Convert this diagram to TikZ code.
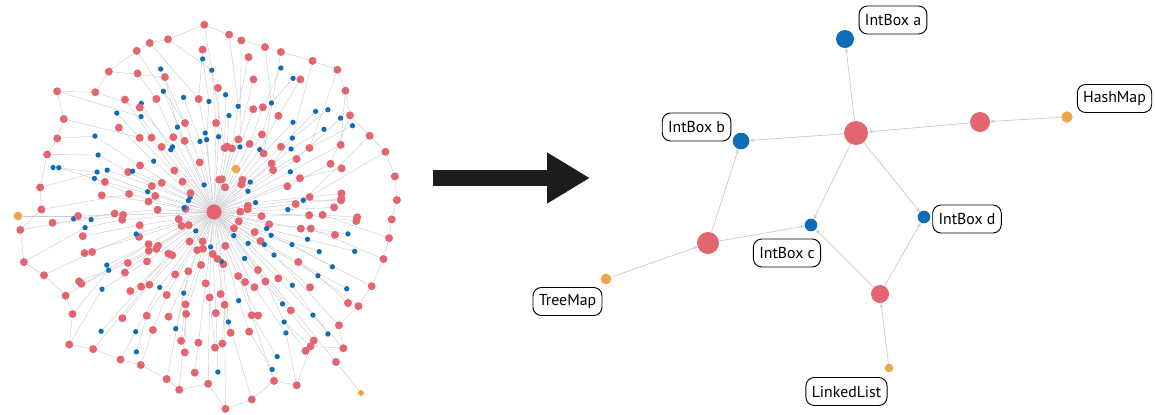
\documentclass[tikz,border=0pt]{standalone}
\usepackage{fontspec}
\setmainfont{PT Sans}
\usepackage{tikz}
\usetikzlibrary{arrows.meta, calc}
\pgfdeclarelayer{bg}
\pgfsetlayers{bg,main}
\definecolor{objred}{RGB}{226,101,111}
\definecolor{intblue}{RGB}{14,108,184}
\definecolor{colorange}{RGB}{238,166,74}
\definecolor{edgegray}{RGB}{200,202,210}
\definecolor{arrowblack}{RGB}{30,27,29}
\tikzset{
	every node/.style={
		font=\fontsize{13.5}{15}\selectfont
	},
	objdot/.style={
		shape=circle,
		inner sep=0pt,
		fill=objred,
		minimum size=0.24cm
	},
	intdot/.style={
		shape=circle,
		inner sep=0pt,
		fill=intblue,
		minimum size=0.16cm
	},
	coldot/.style={
		shape=circle,
		inner sep=0pt,
		fill=colorange,
		minimum size=0.26cm
	},
	dot/.style={objdot},
	link/.style={
		draw=edgegray,
		line width=0.35pt
	},
	ref/.style={
		draw=edgegray,
		line width=0.6pt,
		-{Stealth[length=4pt,width=3pt]}
	},
	labelbox/.style={
		shape=rectangle,
		draw,
		line width=0.8pt,
		rounded corners=0.25cm,
		minimum height=0.84cm,
		inner xsep=5pt
	},
	bigarrow/.style={
		draw=arrowblack,
		line width=0.5cm,
		-{Triangle[length=1.29cm,width=1.44cm]}
	}
}
\newcommand{\pickcolour}{%
	\pgfmathtruncatemacro{\isblue}{rnd<0.34}%
	\ifnum\isblue=1 \tikzset{dot/.style={intdot}}\else\tikzset{dot/.style={objdot}}\fi}

\begin{document}
\begin{tikzpicture}[x=0.03cm, y=-0.03cm]
	\useasboundingbox (0,0) rectangle (1155,414);
	\pgfmathsetseed{42}
	
	% whole heap
	\begin{scope}[shift={(214,212)}]
		\node[objdot, minimum size=0.46cm] (root) at (0,0) {};
		\foreach \k in {1,...,90} {
			\pgfmathsetmacro{\aA}{\k*4+4*rnd}
			\pgfmathsetmacro{\rA}{24+72*rnd}
			\pgfmathsetmacro{\aB}{\aA+8*rnd-4}
			\pgfmathsetmacro{\rB}{\rA+30+32*rnd}
			\pgfmathsetmacro{\aC}{\aB+8*rnd-4}
			\pgfmathsetmacro{\rC}{\rB+30+30*rnd}
			\pickcolour
			\node[dot] (a\k) at (\aA:\rA) {};
			\pickcolour
			\node[dot] (b\k) at (\aB:\rB) {};
			\begin{pgfonlayer}{bg}
				\draw[link] (root) -- (a\k);
				\draw[link] (a\k) -- (b\k);
			\end{pgfonlayer}
			\ifdim\rC pt<170pt
				\pickcolour
				\node[dot] (c\k) at (\aC:\rC) {};
				\begin{pgfonlayer}{bg}
					\draw[link] (b\k) -- (c\k);
				\end{pgfonlayer}
			\fi
		}
		% outer ring
		\foreach \j in {0,...,47} {
			\pgfmathsetmacro{\aR}{\j*7.5+5*rnd}
			\pgfmathsetmacro{\rR}{164+34*rnd}
			\node[objdot] (ring\j) at (\aR:\rR) {};
		}
		\begin{pgfonlayer}{bg}
			\foreach \j [evaluate=\j as \nxt using {int(mod(\j+1,48))}] in {0,...,47}
				\draw[link] (ring\j) -- (ring\nxt);
			\foreach \j [evaluate=\j as \ray using {int(2*\j-1)}] in {1,...,45}
				\draw[link] (ring\j) -- (b\ray);
		\end{pgfonlayer}
		% collections
		\node[objdot] (west) at (-136,4) {};
		\node[coldot] (colw) at (-196,4) {};
		\node[objdot] (south) at (122,150) {};
		\node[coldot, minimum size=0.18cm] (cols) at (147,181) {};
		\node[coldot] (coln) at (22,-43) {};
		\begin{pgfonlayer}{bg}
			\draw[link] (root) -- (west);
			\draw[link] (colw) -- (west);
			\draw[link] (root) -- (south);
			\draw[link] (cols) -- (south);
		\end{pgfonlayer}
	\end{scope}
	
	\coordinate (arrow tail) at (433,178);
	\coordinate (arrow tip) at (590,178);
	\draw[bigarrow] (arrow tail) -- (arrow tip);
	
	% reduced graph
	\node[objdot, minimum size=0.72cm] (hub) at (856,133) {};
	\node[objdot, minimum size=0.6cm] (hmobj) at (980,122) {};
	\node[objdot, minimum size=0.66cm] (tmobj) at (708,243) {};
	\node[objdot, minimum size=0.54cm] (llobj) at (880,294) {};
	\node[intdot, minimum size=0.54cm] (inta) at (845,39) {};
	\node[intdot, minimum size=0.5cm] (intb) at (741,141) {};
	\node[intdot, minimum size=0.38cm] (intc) at (811,225) {};
	\node[intdot, minimum size=0.38cm] (intd) at (924,217) {};
	\node[coldot, minimum size=0.34cm] (hashmap) at (1067,117) {};
	\node[coldot, minimum size=0.32cm] (treemap) at (606,279) {};
	\node[coldot, minimum size=0.26cm] (linkedlist) at (889,368) {};
	
	\draw[ref] (hub) -- (inta);
	\draw[ref] (hub) -- (intb);
	\draw[ref] (hub) -- (intc);
	\draw[ref] (hub) -- (intd);
	\draw[ref] (hmobj) -- (hub);
	\draw[ref] (hashmap) -- (hmobj);
	\draw[ref] (tmobj) -- (intb);
	\draw[ref] (tmobj) -- (intc);
	\draw[ref] (treemap) -- (tmobj);
	\draw[ref] (llobj) -- (intc);
	\draw[ref] (llobj) -- (intd);
	\draw[ref] (linkedlist) -- (llobj);
	
	\node[labelbox] (la) at (893,20) {IntBox a};
	\node[labelbox] (lb) at (696.5,127) {IntBox b};
	\node[labelbox] (lc) at (787,253) {IntBox c};
	\node[labelbox] (ld) at (967,219) {IntBox d};
	\node[labelbox] (lhm) at (1114.5,98.5) {HashMap};
	\node[labelbox] (ltm) at (567.5,301.5) {TreeMap};
	\node[labelbox] (lll) at (846.5,391.5) {LinkedList};
\end{tikzpicture}
\end{document}
